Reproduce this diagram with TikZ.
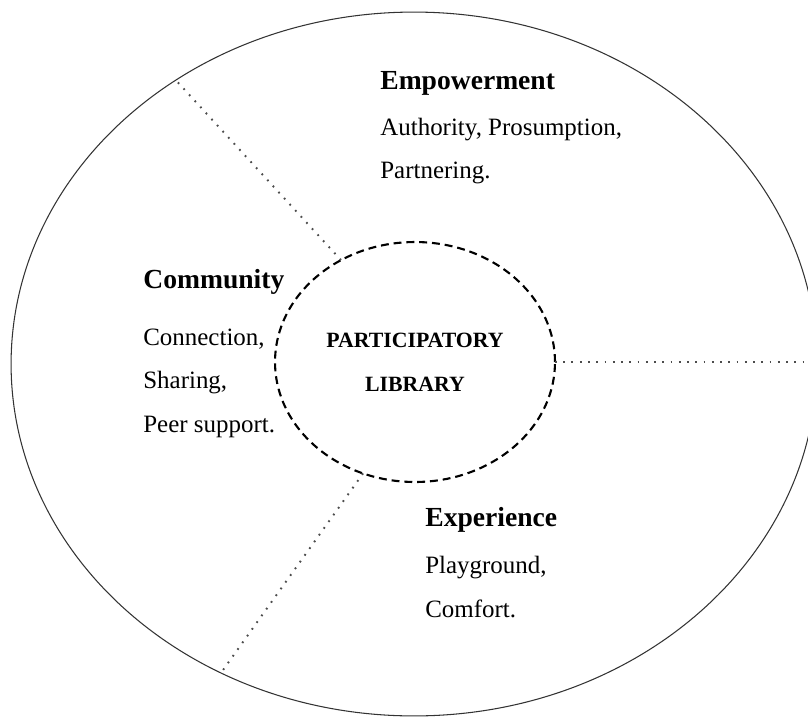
\documentclass[tikz,border=0pt]{standalone}
\usepackage{fontspec}
\setmainfont{Liberation Serif}
\usepackage{tikz}
\usetikzlibrary{shapes.geometric}

\begin{document}
\begin{tikzpicture}[x=0.02cm,y=-0.02cm,
    ring/.style={ellipse,draw,inner sep=0pt,outer sep=0pt},
    divider/.style={black!70,line width=1.1pt,dash pattern=on 1pt off 3.7pt},
    head/.style={anchor=west,inner sep=0pt,font=\fontsize{15.7}{19}\selectfont\bfseries},
    body/.style={anchor=west,inner sep=0pt,align=left,font=\fontsize{14.2}{24.7}\selectfont}]
    \useasboundingbox (0,0) rectangle (808,717);
    \clip (0,0) rectangle (808,717);

    \node[ring,black!80,line width=0.6pt,minimum width=16.12cm,minimum height=14.08cm] (outer) at (414,364) {};
    \node[ring,line width=1.2pt,dash pattern=on 4.5pt off 2.8pt,minimum width=5.6cm,minimum height=4.8cm,
          align=center,font=\fontsize{12.4}{25}\selectfont\bfseries] (core) at (415,362) {PARTICIPATORY\\LIBRARY};

    \draw[divider] (core.126) -- (outer.130);
    \draw[divider] (core.east) -- (core.east -| outer.east);
    \draw[divider] (core.245) -- (outer.238);

    \node[head] (empHead) at (380,83) {Empowerment};
    \node[body] (empBody) at (380,151) {Authority, Prosumption,\\Partnering.};

    \node[head] (comHead) at (143,282) {Community};
    \node[body] (comBody) at (143,383) {Connection,\\Sharing,\\Peer support.};

    \node[head] (expHead) at (425,520) {Experience};
    \node[body] (expBody) at (425,587) {Playground,\\Comfort.};
\end{tikzpicture}
\end{document}
